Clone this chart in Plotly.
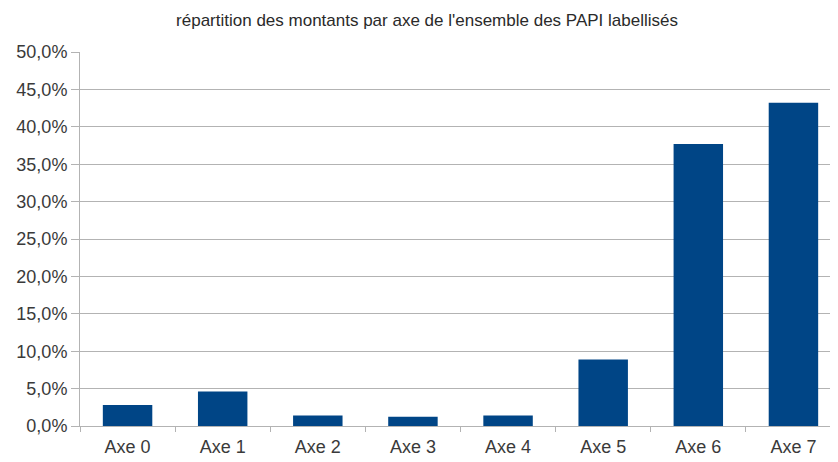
import plotly.graph_objects as go

categories = ["Axe 0", "Axe 1", "Axe 2", "Axe 3", "Axe 4", "Axe 5", "Axe 6", "Axe 7"]
values = [0.028, 0.046, 0.014, 0.0125, 0.014, 0.089, 0.377, 0.432]
title_text = "répartition des montants par axe de l'ensemble des PAPI labellisés"

fig = go.Figure(go.Bar(x=categories, y=values, marker=dict(color="#004586", line=dict(width=0))))

fig.update_layout(
    width=838, height=462,
    margin=dict(l=72, r=5, t=44, b=44),
    paper_bgcolor="white", plot_bgcolor="white",
    separators=", ",
    bargap=0.48,
    showlegend=False,
    font=dict(family="Liberation Sans, Arial, sans-serif", color="#3a3a3a", size=18),
    title=dict(text=title_text, x=0.5, xanchor="center", y=0.975, yanchor="middle",
               font=dict(size=17, color="#2a2a2a")),
)
fig.update_yaxes(range=[0, 0.5], dtick=0.05, tickformat=".1%", showgrid=True,
                 gridcolor="#b3b3b3", gridwidth=1, showline=True, linecolor="#b3b3b3",
                 ticks="outside", ticklen=8, tickcolor="#b3b3b3", zeroline=False,
                 tickfont=dict(size=18, color="#3a3a3a"))
fig.update_xaxes(showline=True, linecolor="#b3b3b3", ticks="outside", tickson="boundaries",
                 ticklen=5, tickcolor="#b3b3b3", ticklabelstandoff=4,
                 tickfont=dict(size=18, color="#3a3a3a"))

fig.write_html("out.html")
